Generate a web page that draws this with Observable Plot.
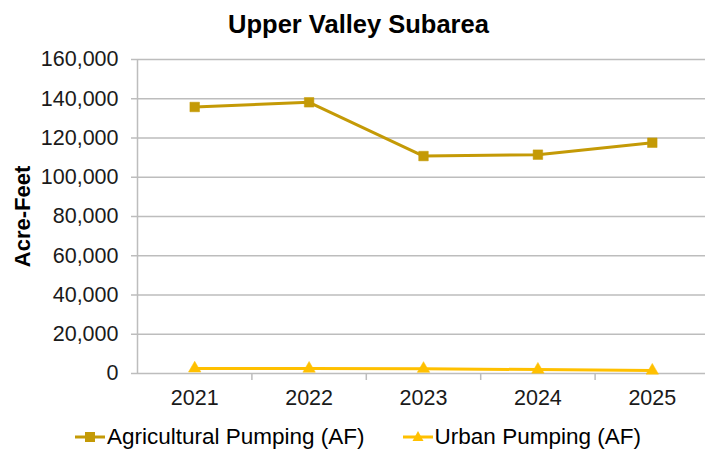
<!DOCTYPE html>
<html>
<head>
<meta charset="utf-8">
<script src="https://cdn.jsdelivr.net/npm/d3@7"></script>
<script src="https://cdn.jsdelivr.net/npm/@observablehq/plot@0.6"></script>
<style>
  html, body { margin: 0; padding: 0; background: #fff; }
  body { width: 705px; height: 453px; overflow: hidden; font-family: "Liberation Sans", Arial, sans-serif; }
  #title { height: 44px; line-height: 49px; text-align: center; font-weight: bold; font-size: 25.5px; color: #000; padding-left: 12px; box-sizing: border-box; overflow: visible; white-space: nowrap; }
  #legend { display: flex; justify-content: flex-start; align-items: center; height: 33px; font-size: 22.5px; color: #000; padding-left: 75px; box-sizing: border-box; }
  #legend .item { display: flex; align-items: center; }
  #legend .item + .item { margin-left: 38px; }
  #legend svg { margin-right: 2px; }
</style>
</head>
<body>
<div id="title">Upper Valley Subarea</div>
<div id="chart"></div>
<div id="legend"></div>
<script>
const years = [2021, 2022, 2023, 2024, 2025];
const agricultural = [135800, 138200, 110800, 111500, 117600];
const urban = [2600, 2500, 2400, 2000, 1500];
const yTicks = [0, 20000, 40000, 60000, 80000, 100000, 120000, 140000, 160000];
const seriesNames = ["Agricultural Pumping (AF)", "Urban Pumping (AF)"];
const seriesColors = ["#C49A06", "#FFC000"];

const agData = years.map((y, i) => ({year: y, value: agricultural[i]}));
const urData = years.map((y, i) => ({year: y, value: urban[i]}));
const between = years.slice(0, -1).map(y => y + 0.5);

const grid = "#BDBDBD";
const chart = Plot.plot({
  width: 705,
  height: 376,
  marginLeft: 137,
  marginRight: 0,
  marginTop: 15,
  marginBottom: 47,
  style: {fontFamily: "Liberation Sans, Arial, sans-serif", fontSize: "21.5px", color: "#1a1a1a", background: "#fff"},
  x: {domain: [2020.5, 2025.465], axis: null},
  y: {domain: [0, 160000], axis: null},
  marks: [
    Plot.ruleY(yTicks.filter(d => d > 0), {stroke: grid, strokeWidth: 1.5}),
    Plot.ruleX([2020.5], {stroke: grid, strokeWidth: 1.5}),
    Plot.ruleY([0], {stroke: grid, strokeWidth: 1.5}),
    Plot.axisY(yTicks, {tickFormat: d3.format(","), tickSize: 6, tickPadding: 13, stroke: grid, strokeWidth: 1.5, fontSize: 21.5, fill: "#1a1a1a", label: null}),
    Plot.axisX(between, {tickSize: 7, tickFormat: () => "", stroke: grid, strokeWidth: 1.5, label: null}),
    Plot.axisX(years, {tickSize: 0, tickPadding: 16, tickFormat: d => String(d), fontSize: 21.5, fill: "#1a1a1a", label: null}),
    Plot.lineY(urData, {x: "year", y: "value", stroke: seriesColors[1], strokeWidth: 3}),
    Plot.dot(urData, {x: "year", y: "value", symbol: "triangle", r: 4.6, fill: seriesColors[1], stroke: seriesColors[1], strokeWidth: 0.5}),
    Plot.lineY(agData, {x: "year", y: "value", stroke: seriesColors[0], strokeWidth: 3}),
    Plot.dot(agData, {x: "year", y: "value", symbol: "square", r: 5.4, fill: seriesColors[0], stroke: seriesColors[0], strokeWidth: 0.5}),
    Plot.text(["Acre-Feet"], {frameAnchor: "left", dx: -115, rotate: -90, textAnchor: "middle", fontWeight: "bold", fontSize: 22, fill: "#000"})
  ]
});
document.getElementById("chart").appendChild(chart);

const legend = document.getElementById("legend");
seriesNames.forEach((name, i) => {
  const item = document.createElement("div");
  item.className = "item";
  const marker = i === 0
    ? `<rect x="10" y="6" width="10" height="10" fill="${seriesColors[i]}"/>`
    : `<path d="M15,5 L20.5,15 L9.5,15 Z" fill="${seriesColors[i]}"/>`;
  item.innerHTML = `<svg width="30" height="22"><line x1="0" y1="11" x2="30" y2="11" stroke="${seriesColors[i]}" stroke-width="3"/>${marker}</svg><span>${name}</span>`;
  legend.appendChild(item);
});
</script>
</body>
</html>
